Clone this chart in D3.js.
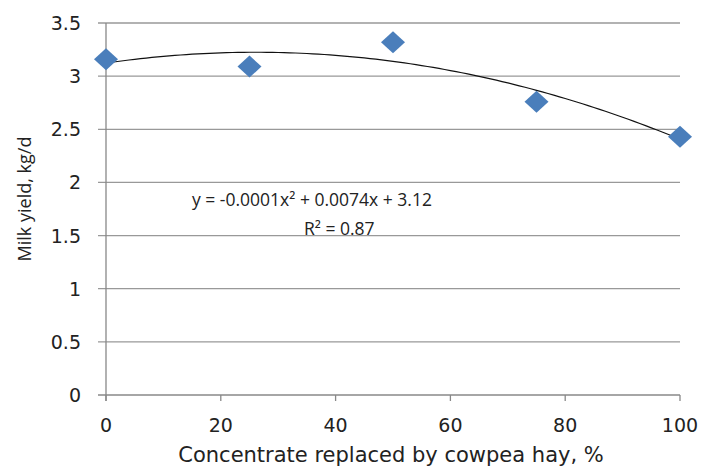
<!DOCTYPE html>
<html>
<head>
<meta charset="utf-8">
<script src="https://cdn.jsdelivr.net/npm/d3@7"></script>
<style>
  body { margin: 0; background: #fff; }
  text { font-family: "Open Sans", "Liberation Sans", sans-serif; fill: #222; }
  .tick, .xtitle { font-family: "DejaVu Sans", sans-serif; }
</style>
</head>
<body>
<svg id="chart" width="701" height="468"></svg>
<script>
// data
const replaced = [0, 25, 50, 75, 100];
const milkYield = [3.16, 3.09, 3.32, 2.76, 2.43];
const xTicks = [0, 20, 40, 60, 80, 100];
const yTicks = [0, 0.5, 1, 1.5, 2, 2.5, 3, 3.5];
const equationLines = ["y = -0.0001x\u00b2 + 0.0074x + 3.12", "R\u00b2 = 0.87"];

const COLORS = {
    marker: '#4a7ebb',
    axis: '#888',
    grid: '#999',
    trend: '#111'
}

const svg = d3.select('#chart');
const margin = { left: 106, right: 21, top: 23, bottom: 73 };
const width = 701 - margin.left - margin.right;
const height = 468 - margin.top - margin.bottom;

const x = d3.scaleLinear().domain([0, 100]).range([0, width]);
const y = d3.scaleLinear().domain([0, 3.5]).range([height, 0]);

const g = svg.append('g').attr('transform', 'translate(' + margin.left + ',' + margin.top + ')');

// horizontal gridlines + y ticks
g.selectAll('.grid').data(yTicks).enter()
    .append('line')
    .attr('x1', -8).attr('x2', width)
    .attr('y1', d => y(d)).attr('y2', d => y(d))
    .style('stroke', d => d === 0 ? COLORS.axis : COLORS.grid)
    .style('stroke-width', 1.3);

g.selectAll('.ytxt').data(yTicks).enter()
    .append('text')
    .attr('class', 'tick')
    .attr('x', -25).attr('y', d => y(d) + 7)
    .attr('text-anchor', 'end')
    .style('font-size', '19px')
    .text(d => d);

// y axis line
g.append('line').attr('x1', 0).attr('x2', 0).attr('y1', 0).attr('y2', height + 6)
    .style('stroke', COLORS.axis).style('stroke-width', 1.3);

// x ticks
g.selectAll('.xtick').data(xTicks).enter()
    .append('line')
    .attr('x1', d => x(d)).attr('x2', d => x(d))
    .attr('y1', height).attr('y2', height + 6)
    .style('stroke', COLORS.axis).style('stroke-width', 1.3);

g.selectAll('.xtxt').data(xTicks).enter()
    .append('text')
    .attr('class', 'tick')
    .attr('x', d => x(d)).attr('y', height + 37)
    .attr('text-anchor', 'middle')
    .style('font-size', '19px')
    .text(d => d);

// quadratic least-squares trendline from the points
function quadFit (xs, ys) {
    var s = [0, 0, 0, 0, 0], t = [0, 0, 0];
    xs.forEach((xv, i) => {
        for (var k = 0; k < 5; k++) s[k] += Math.pow(xv, k);
        for (var k = 0; k < 3; k++) t[k] += ys[i] * Math.pow(xv, k);
    });
    var A = [[s[0], s[1], s[2], t[0]], [s[1], s[2], s[3], t[1]], [s[2], s[3], s[4], t[2]]];
    for (var i = 0; i < 3; i++) {
        for (var j = i + 1; j < 3; j++) {
            var f = A[j][i] / A[i][i];
            for (var k = i; k < 4; k++) A[j][k] -= f * A[i][k];
        }
    }
    var c = [0, 0, 0];
    for (var i = 2; i >= 0; i--) {
        var v = A[i][3];
        for (var k = i + 1; k < 3; k++) v -= A[i][k] * c[k];
        c[i] = v / A[i][i];
    }
    return c;
}
const coef = quadFit(replaced, milkYield);
const trend = d3.range(0, 100.5, 1).map(v => [v, coef[0] + coef[1] * v + coef[2] * v * v]);

g.append('path')
    .datum(trend)
    .attr('d', d3.line().x(d => x(d[0])).y(d => y(d[1])))
    .style('fill', 'none')
    .style('stroke', COLORS.trend)
    .style('stroke-width', 1.2);

// diamond markers
g.selectAll('.pt').data(replaced).enter()
    .append('path')
    .attr('transform', (d, i) => 'translate(' + x(d) + ',' + y(milkYield[i]) + ')')
    .attr('d', 'M0,-11L12,0L0,11L-12,0Z')
    .style('fill', COLORS.marker);

// equation label
g.append('text')
    .attr('x', 86).attr('y', 183)
    .style('font-size', '17.5px')
    .text(equationLines[0]);
g.append('text')
    .attr('x', 198).attr('y', 212)
    .style('font-size', '17.5px')
    .text(equationLines[1]);

// axis titles
svg.append('text')
    .attr('transform', 'translate(31,199) rotate(-90)')
    .attr('text-anchor', 'middle')
    .style('font-size', '18px')
    .text('Milk yield, kg/d');

svg.append('text')
    .attr('class', 'xtitle')
    .attr('x', 391).attr('y', 462)
    .attr('text-anchor', 'middle')
    .style('font-size', '21px')
    .text('Concentrate replaced by cowpea hay, %');
</script>
</body>
</html>
